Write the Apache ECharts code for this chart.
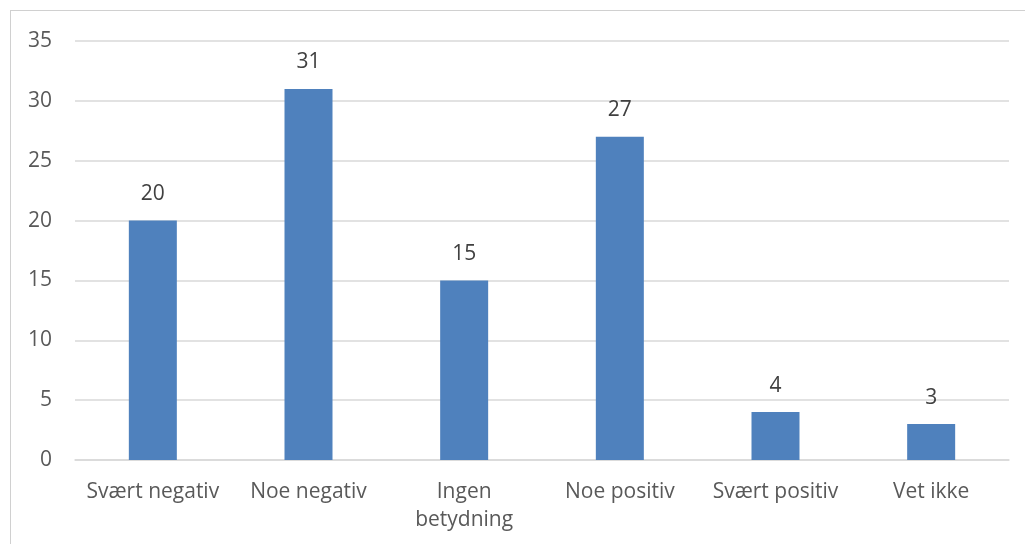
<!DOCTYPE html>
<html>
<head>
<meta charset="utf-8">
<script src="https://cdn.jsdelivr.net/npm/echarts@6/dist/echarts.min.js"></script>
<style>
  html, body { margin: 0; padding: 0; background: #fff; overflow: hidden; }
  #frame { position: absolute; left: 10px; top: 10px; width: 1040px; height: 560px; border: 1px solid #d0d0d0; box-sizing: border-box; }
  #chart { position: absolute; left: 0; top: 0; width: 1025px; height: 544px; }
</style>
</head>
<body>
<div id="frame"></div>
<div id="chart"></div>
<script>
  // kategorier og verdier
  const categories = ['Svært negativ', 'Noe negativ', 'Ingen\nbetydning', 'Noe positiv', 'Svært positiv', 'Vet ikke'];
  const values = [20, 31, 15, 27, 4, 3];

  const font = '"Open Sans", sans-serif';
  let chart = echarts.init(document.getElementById('chart'));
  chart.setOption({
    animation: false,
    grid: {
      left: 75,
      right: 16,
      top: 41,
      bottom: 84
    },
    xAxis: {
      type: 'category',
      data: categories,
      axisLine: { lineStyle: { color: '#d9d9d9', width: 1.5 } },
      axisTick: { show: false },
      axisLabel: {
        color: '#595959',
        fontFamily: font,
        fontSize: 21,
        lineHeight: 28,
        margin: 18,
        interval: 0
      }
    },
    yAxis: {
      type: 'value',
      min: 0,
      max: 35,
      interval: 5,
      axisLine: { show: false },
      axisTick: { show: false },
      splitLine: { lineStyle: { color: '#d9d9d9', width: 1.5 } },
      axisLabel: {
        color: '#595959',
        fontFamily: font,
        fontSize: 21,
        margin: 23
      }
    },
    series: [{
      type: 'bar',
      data: values,
      barWidth: 48,
      itemStyle: { color: '#4f81bd' },
      label: {
        show: true,
        position: 'top',
        distance: 16,
        color: '#404040',
        fontFamily: font,
        fontSize: 21
      }
    }]
  });
</script>
</body>
</html>
